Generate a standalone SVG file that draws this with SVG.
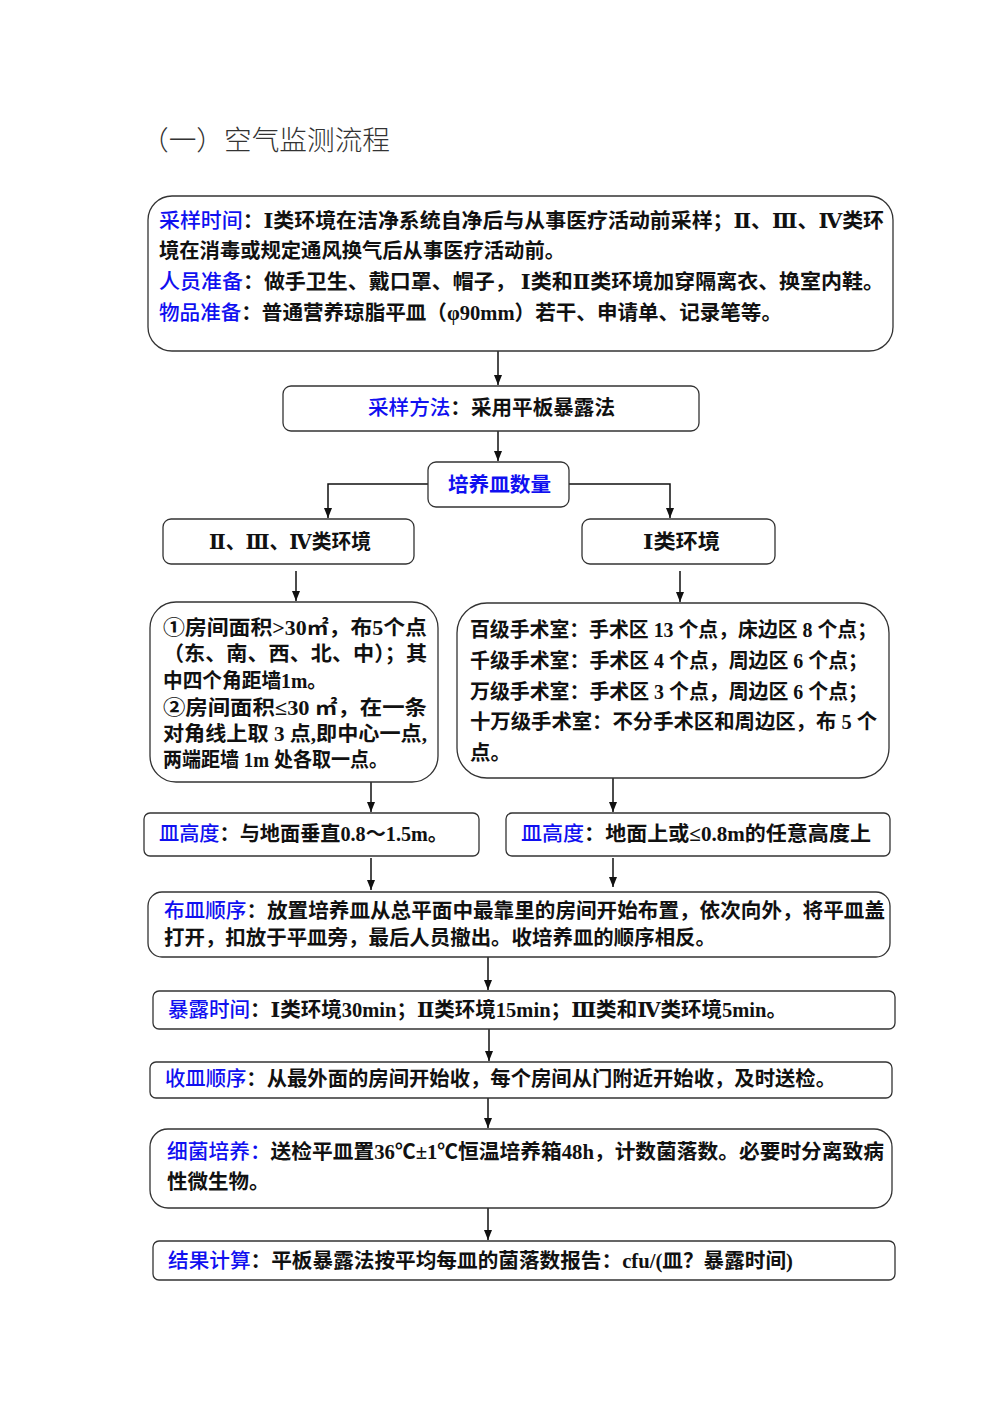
<svg xmlns="http://www.w3.org/2000/svg" width="1004" height="1426" viewBox="0 0 1004 1426">
<style>
.bg{fill:#ffffff}
.box{fill:#ffffff;stroke:#333333;stroke-width:1.3}
.t{font-family:"Liberation Serif","Noto Sans CJK SC",serif;font-size:20.5px;font-weight:700;fill:#111111}
.b{fill:#1010f0;font-weight:500}
.r{font-family:"DejaVu Serif","Liberation Serif","Noto Sans CJK SC",serif}
.title{font-family:"Noto Sans CJK SC",sans-serif;font-size:27px;font-weight:300;fill:#333333}
.c{fill:none;stroke:#111111;stroke-width:1.5}
</style>
<defs>
<marker id="ah" markerUnits="userSpaceOnUse" markerWidth="10" markerHeight="10" refX="10" refY="4" orient="auto">
<path d="M0,0 L10,4 L0,8 z" fill="#111111"/>
</marker>
</defs>
<rect class="bg" x="0" y="0" width="1004" height="1426"/>
<text class="title" x="141" y="150" textLength="249" lengthAdjust="spacingAndGlyphs">（一）空气监测流程</text>

<g id="connectors">
<path class="c" d="M498,351 V385" marker-end="url(#ah)"/>
<path class="c" d="M498,431 V461" marker-end="url(#ah)"/>
<path class="c" d="M428,484 H328 V518" marker-end="url(#ah)"/>
<path class="c" d="M569,484 H670 V518" marker-end="url(#ah)"/>
<path class="c" d="M296,571 V601" marker-end="url(#ah)"/>
<path class="c" d="M680,571 V602" marker-end="url(#ah)"/>
<path class="c" d="M371,782 V812" marker-end="url(#ah)"/>
<path class="c" d="M613,778 V812" marker-end="url(#ah)"/>
<path class="c" d="M371,858 V890" marker-end="url(#ah)"/>
<path class="c" d="M613,858 V887" marker-end="url(#ah)"/>
<path class="c" d="M488,957 V990" marker-end="url(#ah)"/>
<path class="c" d="M489,1029 V1061" marker-end="url(#ah)"/>
<path class="c" d="M488,1098 V1128" marker-end="url(#ah)"/>
<path class="c" d="M488,1208 V1240" marker-end="url(#ah)"/>
</g>

<g id="n1">
<rect class="box" x="148" y="196" width="745" height="155" rx="24"/>
<text class="t" x="159" y="228" textLength="725" lengthAdjust="spacingAndGlyphs"><tspan class="b">采样时间</tspan>：<tspan class="r">Ⅰ</tspan>类环境在洁净系统自净后与从事医疗活动前采样；<tspan class="r">Ⅱ</tspan>、<tspan class="r">Ⅲ</tspan>、<tspan class="r">Ⅳ</tspan>类环</text>
<text class="t" x="159" y="258" textLength="406" lengthAdjust="spacingAndGlyphs">境在消毒或规定通风换气后从事医疗活动前。</text>
<text class="t" x="159" y="289" textLength="725" lengthAdjust="spacingAndGlyphs"><tspan class="b">人员准备</tspan>：做手卫生、戴口罩、帽子， <tspan class="r">Ⅰ</tspan>类和<tspan class="r">Ⅱ</tspan>类环境加穿隔离衣、换室内鞋。</text>
<text class="t" x="159" y="320" textLength="623" lengthAdjust="spacingAndGlyphs"><tspan class="b">物品准备</tspan>：普通营养琼脂平皿（φ90mm）若干、申请单、记录笔等。</text>
</g>

<g id="n2">
<rect class="box" x="283" y="386" width="416" height="45" rx="8"/>
<text class="t" x="368" y="415" textLength="247" lengthAdjust="spacingAndGlyphs"><tspan class="b">采样方法</tspan>：采用平板暴露法</text>
</g>

<g id="n3">
<rect class="box" x="428" y="462" width="141" height="45" rx="8"/>
<text class="t" x="448" y="492" textLength="103" lengthAdjust="spacingAndGlyphs"><tspan class="b" style="font-weight:700">培养皿数量</tspan></text>
</g>

<g id="n4">
<rect class="box" x="163" y="519" width="251" height="45" rx="8"/>
<text class="t" x="209" y="549" textLength="162" lengthAdjust="spacingAndGlyphs"><tspan class="r">Ⅱ</tspan>、<tspan class="r">Ⅲ</tspan>、<tspan class="r">Ⅳ</tspan>类环境</text>
</g>

<g id="n5">
<rect class="box" x="582" y="519" width="193" height="45" rx="8"/>
<text class="t" x="643" y="549" textLength="77" lengthAdjust="spacingAndGlyphs"><tspan class="r">Ⅰ</tspan>类环境</text>
</g>

<g id="n6">
<rect class="box" x="150" y="602" width="288" height="180" rx="26"/>
<text class="t" x="163" y="635" textLength="264" lengthAdjust="spacingAndGlyphs">①房间面积&gt;30㎡，布5个点</text>
<text class="t" x="163" y="661" textLength="264" lengthAdjust="spacingAndGlyphs">（东、南、西、北、中）；其</text>
<text class="t" x="163" y="688" textLength="164" lengthAdjust="spacingAndGlyphs">中四个角距墙1m。</text>
<text class="t" x="163" y="715" textLength="264" lengthAdjust="spacingAndGlyphs">②房间面积≤30 ㎡，在一条</text>
<text class="t" x="163" y="741" textLength="264" lengthAdjust="spacingAndGlyphs">对角线上取 3 点,即中心一点,</text>
<text class="t" x="163" y="767" textLength="225" lengthAdjust="spacingAndGlyphs">两端距墙 1m 处各取一点。</text>
</g>

<g id="n7">
<rect class="box" x="457" y="603" width="432" height="175" rx="30"/>
<text class="t" x="470" y="637" textLength="407" lengthAdjust="spacingAndGlyphs">百级手术室：手术区 13 个点，床边区 8 个点；</text>
<text class="t" x="470" y="668" textLength="398" lengthAdjust="spacingAndGlyphs">千级手术室：手术区 4 个点，周边区 6 个点；</text>
<text class="t" x="470" y="699" textLength="398" lengthAdjust="spacingAndGlyphs">万级手术室：手术区 3 个点，周边区 6 个点；</text>
<text class="t" x="470" y="729" textLength="407" lengthAdjust="spacingAndGlyphs">十万级手术室：不分手术区和周边区，布 5 个</text>
<text class="t" x="470" y="760">点。</text>
</g>

<g id="n8">
<rect class="box" x="144" y="813" width="335" height="43" rx="6"/>
<text class="t" x="159" y="841" textLength="289" lengthAdjust="spacingAndGlyphs"><tspan class="b">皿高度</tspan>：与地面垂直0.8～1.5m。</text>
</g>

<g id="n9">
<rect class="box" x="506" y="813" width="384" height="43" rx="6"/>
<text class="t" x="521" y="841" textLength="350" lengthAdjust="spacingAndGlyphs"><tspan class="b">皿高度</tspan>：地面上或≤0.8m的任意高度上</text>
</g>

<g id="n10">
<rect class="box" x="148" y="892" width="742" height="65" rx="14"/>
<text class="t" x="164" y="918" textLength="721" lengthAdjust="spacingAndGlyphs"><tspan class="b">布皿顺序</tspan>：放置培养皿从总平面中最靠里的房间开始布置，依次向外，将平皿盖</text>
<text class="t" x="164" y="945" textLength="552" lengthAdjust="spacingAndGlyphs">打开，扣放于平皿旁，最后人员撤出。收培养皿的顺序相反。</text>
</g>

<g id="n11">
<rect class="box" x="153" y="991" width="742" height="38" rx="6"/>
<text class="t" x="168" y="1017" textLength="619" lengthAdjust="spacingAndGlyphs"><tspan class="b">暴露时间</tspan>：<tspan class="r">Ⅰ</tspan>类环境30min；<tspan class="r">Ⅱ</tspan>类环境15min；<tspan class="r">Ⅲ</tspan>类和<tspan class="r">Ⅳ</tspan>类环境5min。</text>
</g>

<g id="n12">
<rect class="box" x="150" y="1062" width="742" height="36" rx="6"/>
<text class="t" x="165" y="1086" textLength="671" lengthAdjust="spacingAndGlyphs"><tspan class="b">收皿顺序</tspan>：从最外面的房间开始收，每个房间从门附近开始收，及时送检。</text>
</g>

<g id="n13">
<rect class="box" x="150" y="1129" width="742" height="79" rx="18"/>
<text class="t" x="167" y="1159" textLength="717" lengthAdjust="spacingAndGlyphs"><tspan class="b">细菌培养：</tspan>送检平皿置36℃±1℃恒温培养箱48h，计数菌落数。必要时分离致病</text>
<text class="t" x="167" y="1189">性微生物。</text>
</g>

<g id="n14">
<rect class="box" x="153" y="1241" width="742" height="39" rx="6"/>
<text class="t" x="168" y="1268" textLength="625" lengthAdjust="spacingAndGlyphs"><tspan class="b">结果计算</tspan>：平板暴露法按平均每皿的菌落数报告：cfu/(皿？暴露时间)</text>
</g>
</svg>
